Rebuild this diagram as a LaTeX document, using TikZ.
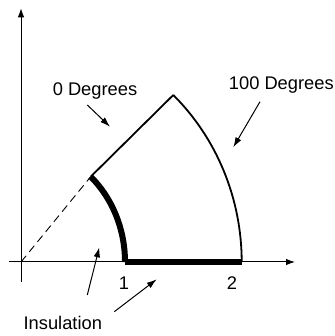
\documentclass[tikz,border=0pt]{standalone}
\usepackage{fontspec}
\setmainfont{Liberation Sans}
\usetikzlibrary{arrows.meta}

\tikzset{
  axis/.style={line width=1pt, -{Latex[length=9pt,width=6.5pt]}},
  pointer/.style={line width=1pt, -{Latex[length=10pt,width=6.5pt]}},
  wall/.style={line width=1.8pt},
  insul/.style={line width=6pt},
  lbl/.style={anchor=base, inner sep=0pt, font=\fontsize{18.3}{22}\selectfont}
}

\begin{document}
\begin{tikzpicture}[x=1pt,y=1pt]
        \useasboundingbox (-21,-74) rectangle (313,262);

        % Axes
        \coordinate (O) at (0,0);             % Origin
        \coordinate (Xl) at (-11.7,0);        % Left end of x axis
        \coordinate (Xr) at (274,0);          % Right end of x axis
        \coordinate (Yb) at (0,-19.7);        % Bottom end of y axis
        \coordinate (Yt) at (0,253.7);        % Top end of y axis

        % Corners of the sector
        \coordinate (R1) at (104,0);          % Inner radius on x axis
        \coordinate (R2) at (220.7,0);        % Outer radius on x axis
        \coordinate (A) at (69.7,85.3);       % Inner corner
        \coordinate (B) at (152.3,167);       % Outer corner

        % Draw axes
        \draw[axis] (Xl) -- (Xr);
        \draw[axis] (Yb) -- (Yt);

        % Dashed line from origin to inner corner
        \draw[line width=0.9pt, dash pattern=on 8pt off 5pt] (O) -- (A);

        % Outer boundary
        \draw[wall] (A) -- (B);
        \draw[wall] (R2) arc[start angle=0, end angle=46.4, x radius=220.7pt, y radius=230.7pt];

        % Insulated boundaries
        \draw[insul] (R1) arc[start angle=0, end angle=48, x radius=104pt, y radius=115pt];
        \draw[insul] (R1) -- (R2);

        % Labels
        \node[lbl] (zero) at (74,166) {0 Degrees};
        \node[lbl] (hundred) at (260.3,172.7) {100 Degrees};
        \node[lbl] (one) at (103,-27.3) {1};
        \node[lbl] (two) at (211,-27.3) {2};
        \node[lbl] (insulation) at (41.8,-67.3) {Insulation};

        % Pointer arrows
        \coordinate (P1s) at (66.3,157);
        \coordinate (P1e) at (89,135.3);
        \coordinate (P2s) at (239,160.3);
        \coordinate (P2e) at (212.3,114.7);
        \coordinate (P3s) at (66.3,-33);
        \coordinate (P3e) at (78.3,14.7);
        \coordinate (P4s) at (93.3,-49.7);
        \coordinate (P4e) at (135.7,-17.3);
        \draw[pointer] (P1s) -- (P1e);
        \draw[pointer] (P2s) -- (P2e);
        \draw[pointer] (P3s) -- (P3e);
        \draw[pointer] (P4s) -- (P4e);

\end{tikzpicture}
\end{document}
